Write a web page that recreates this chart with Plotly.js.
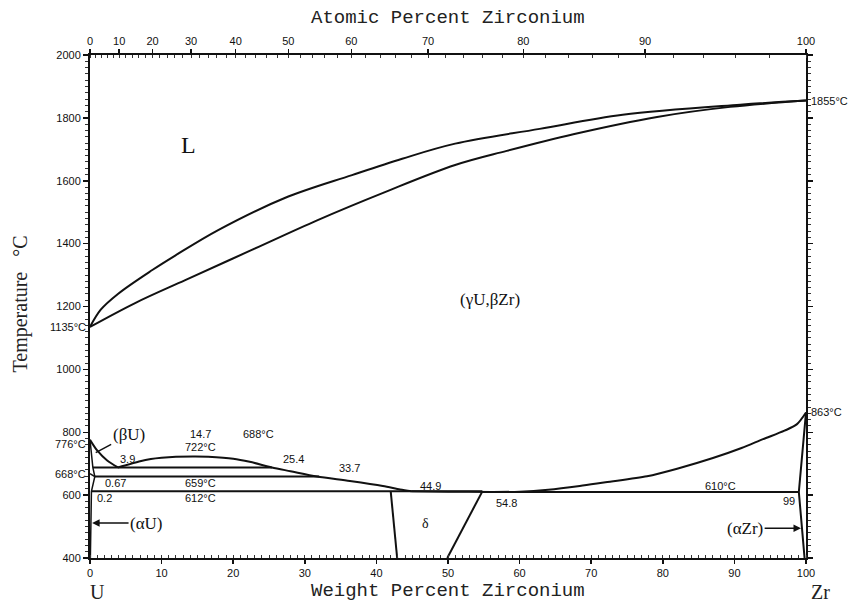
<!DOCTYPE html>
<html>
<head>
<meta charset="utf-8">
<script src="https://cdn.plot.ly/plotly-3.0.1.min.js"></script>
<style>html,body{margin:0;padding:0;background:#fff;}#chart{width:861px;height:606px;}</style>
</head>
<body>
<div id="chart"></div>
<script>
// ---- data (weight % Zr, temperature °C) ----
var liquidusWt = [0, 1.5, 3.9, 8.7, 11.9, 17.9, 27.2, 36.6, 43.6, 51.0, 62.8, 74.4, 90.8, 100];
var liquidusT  = [1135, 1190, 1240, 1316, 1362, 1443, 1545, 1618, 1670, 1718, 1765, 1810, 1842, 1855];
var solidusWt  = [0, 6.3, 13.3, 22.6, 31.8, 41.2, 51.0, 58.2, 67.5, 79.2, 89.4, 100];
var solidusT   = [1135, 1211, 1284, 1380, 1475, 1564, 1650, 1695, 1748, 1803, 1835, 1855];
// lower boundary of the (γU,βZr) field, in three pieces
var gammaLeftWt = [0, 1.0, 2.4, 3.9];
var gammaLeftT  = [776, 742, 710, 688];
var gammaDomeWt = [3.9, 5.5, 7.0, 8.5, 10, 12, 14.7, 16.5, 20, 22.3, 25.4, 28, 31.7, 36.3, 40.9, 43.3, 44.9];
var gammaDomeT  = [688, 698, 708, 715, 719, 722, 723, 722, 716, 706, 688, 676, 659, 645, 629, 618, 612];
var gammaRightWt = [44.9, 50, 56, 60, 64, 68.4, 72, 77.8, 82, 87, 91, 94, 97, 98.7, 100];
var gammaRightT  = [612, 611, 610, 611, 617, 629, 641, 660, 684, 718, 750, 778, 805, 825, 863];
// isotherms
var isoStartWt = [0.4, 0.67, 0.2, 54.8];
var isoEndWt   = [25.4, 32.0, 54.8, 99];
var isoT       = [688, 659, 612, 610];
// δ phase boundaries
var deltaLeftWt  = [42.0, 42.9], deltaLeftT  = [612, 400];
var deltaRightWt = [54.8, 49.9], deltaRightT = [612, 400];
// αZr boundary
var aZrWt = [100, 99, 99.8], aZrT = [863, 610, 400];
// βU / αU boundaries near pure U
var bUWt = [0, 0.4, 0.67], bUT = [776, 688, 659];
var bULowWt = [0, 0.67], bULowT = [668, 659];
var aUWt = [0.67, 0.2, 0.05], aUT = [659, 612, 400];
// axis ticks
var wtTicks = [0, 10, 20, 30, 40, 50, 60, 70, 80, 90, 100];
var atTicks = [0, 10, 20, 30, 40, 50, 60, 70, 80, 90, 100];
var tempTicks = [400, 600, 800, 1000, 1200, 1400, 1600, 1800, 2000];

var MZr = 91.224, MU = 238.029;
function atToWt(a) { return 100 * a * MZr / (a * MZr + (100 - a) * MU); }
var atTickPos = atTicks.map(atToWt);
var atMinor = [];
for (var a = 0; a <= 100; a += 2) atMinor.push(atToWt(a));

var traces = [];
function addLine(xs, ys, w, smooth) {
  var ln = {color: '#111', width: w || 2};
  if (smooth) { ln.shape = 'spline'; ln.smoothing = smooth; }
  traces.push({x: xs, y: ys, type: 'scatter', mode: 'lines', line: ln, hoverinfo: 'skip', showlegend: false});
}
addLine(liquidusWt, liquidusT, 2, 1);
addLine(solidusWt, solidusT, 2, 1);
addLine(gammaLeftWt, gammaLeftT, 2, 0.8);
addLine(gammaDomeWt, gammaDomeT, 2, 0.8);
addLine(gammaRightWt, gammaRightT, 2, 0.8);
for (var i = 0; i < isoT.length; i++) addLine([isoStartWt[i], isoEndWt[i]], [isoT[i], isoT[i]]);
addLine(deltaLeftWt, deltaLeftT);
addLine(deltaRightWt, deltaRightT);
addLine(aZrWt, aZrT);
addLine(bUWt, bUT, 1.5);
addLine(bULowWt, bULowT, 1.5);
addLine(aUWt, aUT, 1.5);
traces.push({x: [0, 100], y: [400, 400], xaxis: 'x2', yaxis: 'y', type: 'scatter', mode: 'lines', line: {width: 0}, hoverinfo: 'skip', showlegend: false});

var small = {family: 'Liberation Sans, Arial, sans-serif', size: 11, color: '#111'};
var serifFam = 'Liberation Serif, Times New Roman, serif';
var mono = {family: 'Liberation Mono, Courier New, monospace', size: 19, color: '#222'};

function lab(t, x, y, opts) {
  var o = {text: t, x: x, y: y, xref: 'x', yref: 'y', showarrow: false, font: small};
  for (var k in opts) o[k] = opts[k];
  return o;
}
function paperLab(t, x, y, font, extra) {
  var o = {text: t, x: x, y: y, xref: 'paper', yref: 'paper', xanchor: 'center', yanchor: 'middle', showarrow: false, font: font};
  for (var k in extra) o[k] = extra[k];
  return o;
}
var annotations = [
  lab('L', 13.7, 1714, {font: {family: serifFam, size: 24, color: '#111'}}),
  lab('(γU,βZr)', 55.9, 1221, {font: {family: serifFam, size: 17, color: '#111'}}),
  lab('1135°C', 0, 1135, {xanchor: 'right', xshift: -2}),
  lab('1855°C', 100, 1855, {xanchor: 'left', xshift: 3}),
  lab('863°C', 100, 863, {xanchor: 'left', xshift: 3}),
  lab('776°C', 0, 764, {xanchor: 'right', xshift: -2}),
  lab('668°C', 0, 668, {xanchor: 'right', xshift: -2}),
  lab('3.9', 5.3, 714),
  lab('14.7', 15.4, 794),
  lab('722°C', 15.4, 752),
  lab('688°C', 23.5, 794),
  lab('25.4', 28.4, 714),
  lab('33.7', 36.3, 686),
  lab('0.67', 3.6, 638),
  lab('659°C', 15.4, 638),
  lab('0.2', 2.0, 590),
  lab('612°C', 15.4, 590),
  lab('44.9', 47.5, 629),
  lab('54.8', 58.1, 575),
  lab('δ', 46.8, 511, {font: {family: serifFam, size: 14, color: '#111'}}),
  lab('610°C', 88.0, 629),
  lab('99', 97.6, 581),
  {text: '(βU)', x: 0.8, y: 735, ax: 5.4, ay: 792, xref: 'x', yref: 'y', axref: 'x', ayref: 'y', showarrow: true, arrowhead: 0, arrowwidth: 1.5, arrowcolor: '#111', font: {family: serifFam, size: 17, color: '#111'}},
  {text: '(αU)', x: 0.3, y: 511, ax: 7.9, ay: 511, xref: 'x', yref: 'y', axref: 'x', ayref: 'y', showarrow: true, arrowhead: 2, arrowsize: 1, arrowwidth: 1.5, arrowcolor: '#111', font: {family: serifFam, size: 17, color: '#111'}},
  {text: '(αZr)', x: 99.3, y: 495, ax: 91.5, ay: 495, xref: 'x', yref: 'y', axref: 'x', ayref: 'y', showarrow: true, arrowhead: 2, arrowsize: 1, arrowwidth: 1.5, arrowcolor: '#111', font: {family: serifFam, size: 17, color: '#111'}},
  paperLab('U', 0.01, -0.068, {family: serifFam, size: 20, color: '#222'}),
  paperLab('Zr', 1.02, -0.068, {family: serifFam, size: 20, color: '#222'}),
  paperLab('Weight Percent Zirconium', 0.5, -0.066, mono),
  paperLab('Atomic Percent Zirconium', 0.5, 1.074, mono),
  paperLab('Temperature   °C', -0.097, 0.505, {family: serifFam, size: 20, color: '#222'}, {textangle: -90})
];

var axisCommon = {showgrid: false, zeroline: false, showline: true, linecolor: '#111', linewidth: 2, ticks: 'outside', ticklen: 5, tickwidth: 1.5, tickcolor: '#111', tickfont: small};

var layout = {
  width: 861, height: 606,
  margin: {l: 90, r: 55, t: 55, b: 48},
  paper_bgcolor: '#fff', plot_bgcolor: '#fff',
  showlegend: false,
  xaxis: Object.assign({}, axisCommon, {range: [0, 100], tickmode: 'array', tickvals: wtTicks, ticktext: wtTicks.map(String), ticklen: 4,
    minor: {dtick: 1, ticks: 'inside', ticklen: 3, tickcolor: '#333', tickwidth: 1}}),
  xaxis2: Object.assign({}, axisCommon, {overlaying: 'x', side: 'top', range: [0, 100], tickmode: 'array', tickvals: atTickPos, ticktext: atTicks.map(String), ticklen: 4,
    minor: {tickmode: 'array', tickvals: atMinor, ticks: 'inside', ticklen: 3, tickcolor: '#333', tickwidth: 1}}),
  yaxis: Object.assign({}, axisCommon, {range: [400, 2000], tickmode: 'array', tickvals: tempTicks, ticktext: tempTicks.map(String), mirror: 'ticks',
    minor: {dtick: 20, ticks: 'outside', ticklen: 3, tickcolor: '#333', tickwidth: 1}}),
  annotations: annotations
};

Plotly.newPlot('chart', traces, layout, {displayModeBar: false, staticPlot: true});
</script>
</body>
</html>
